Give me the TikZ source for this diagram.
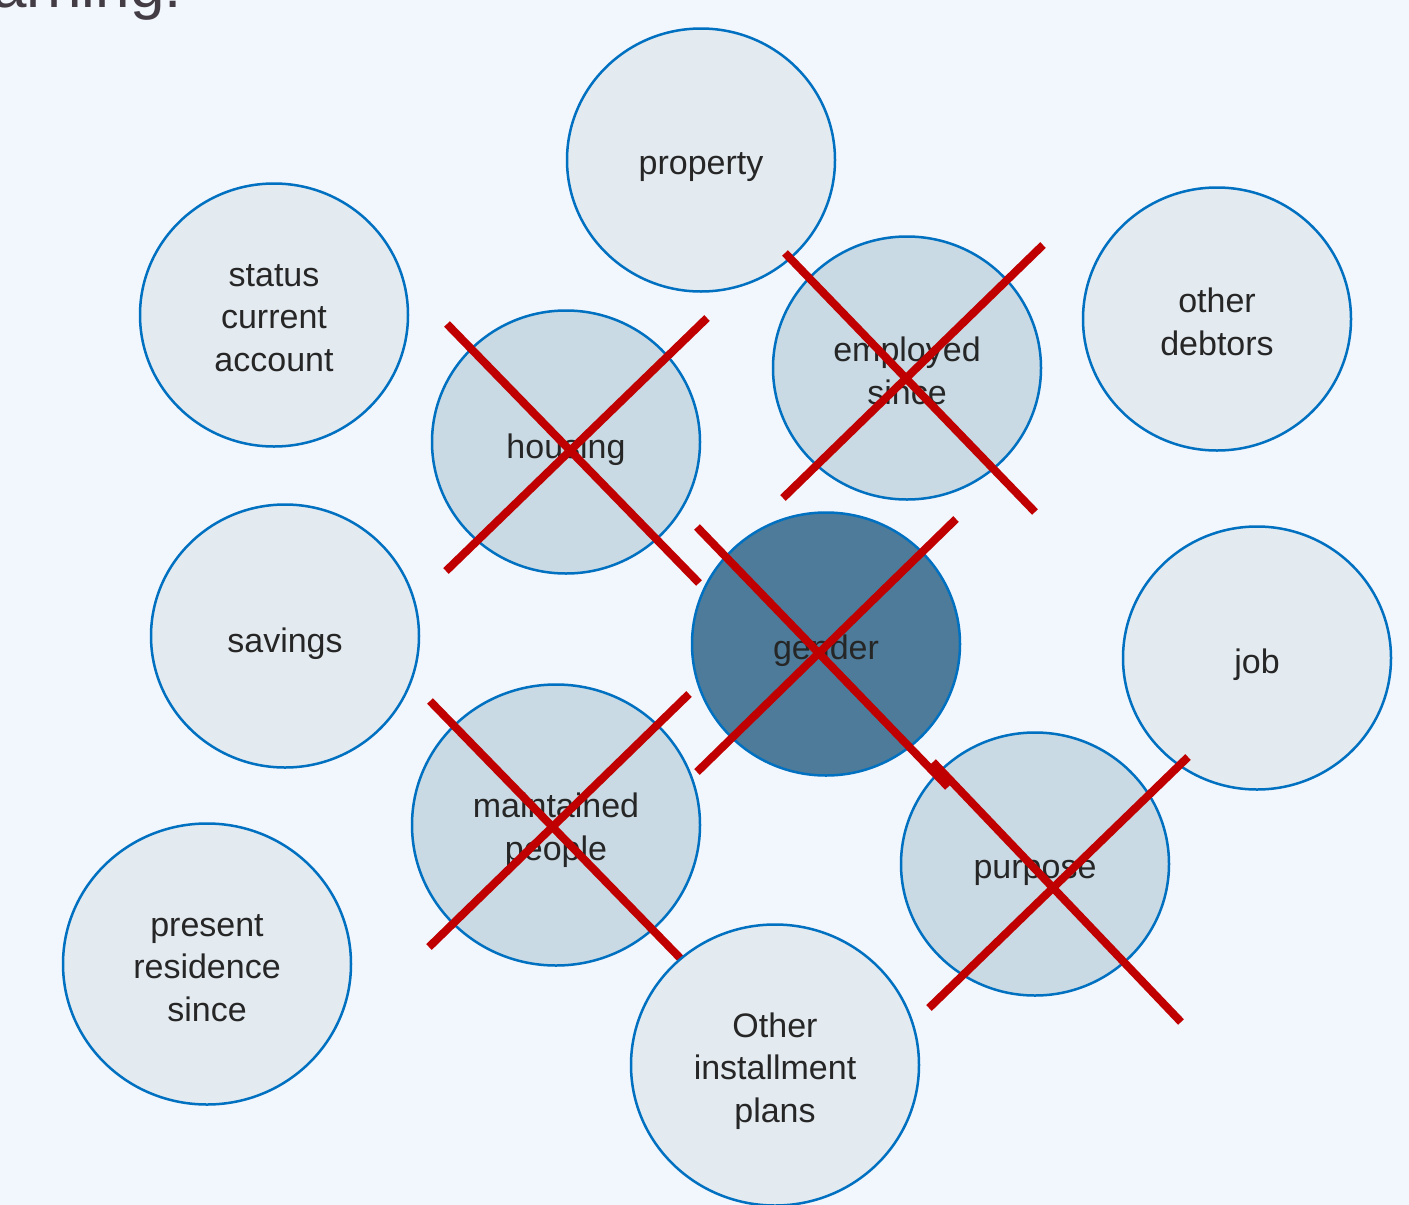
\documentclass[tikz,border=0pt]{standalone}
\usepackage{fontspec}
\setmainfont{Liberation Sans}
\usetikzlibrary{shapes.geometric}
\definecolor{bgc}{HTML}{F2F6FD}
\definecolor{lightc}{HTML}{E3EAF0}
\definecolor{crossc}{HTML}{C9DAE4}
\definecolor{darkc}{HTML}{4D7B99}
\definecolor{edgec}{HTML}{0070C0}
\definecolor{redc}{HTML}{C00000}
\definecolor{txtc}{HTML}{262626}
\definecolor{titlec}{HTML}{433C45}
\tikzset{
  bubble/.style={ellipse, draw=edgec, line width=2.5pt, fill=lightc, inner sep=0pt,
    minimum width=268pt, minimum height=263pt},
  bigbubble/.style={bubble, minimum width=288pt, minimum height=281pt},
  bt/.style={align=center, text=txtc, inner sep=0pt,
    font=\fontsize{34}{42.5}\selectfont},
  crossed/.style={fill=crossc},
  darkbubble/.style={fill=darkc},
  redx/.style={draw=redc, line width=8pt}
}
\begin{document}
\begin{tikzpicture}[x=1pt,y=-1pt]
\useasboundingbox (0,0) rectangle (1409,1205);
\fill[bgc] (0,0) rectangle (1409,1205);
\node[anchor=base east, text=titlec, font=\fontsize{62}{70}\selectfont, inner sep=0pt] (title) at (182,7) {arning:};

\node[bubble, label={[bt,yshift=-7pt]center:property}] (property) at (701,160) {};
\node[bubble, label={[bt,yshift=-3pt]center:status\\current\\account}] (status) at (274,315) {};
\node[bubble, crossed, label={[bt,yshift=-8pt]center:housing}] (housing) at (566,442) {};
\node[bubble, crossed, label={[bt,yshift=-3pt]center:employed\\since}] (employed) at (907,368) {};
\node[bubble, label={[bt,yshift=-3pt]center:other\\debtors}] (debtors) at (1217,319) {};
\node[bubble, label={[bt,yshift=-8pt]center:savings}] (savings) at (285,636) {};
\node[bubble, darkbubble, label={[bt,yshift=-7pt]center:gender}] (gender) at (826,644) {};
\node[bubble, label={[bt,yshift=-7pt]center:job}] (job) at (1257,658) {};
\node[bigbubble, crossed, label={[bt,yshift=-5pt]center:maintained\\people}] (maintained) at (556,825) {};
\node[bubble, crossed, label={[bt,yshift=-9pt]center:purpose}] (purpose) at (1035,864) {};
\node[bigbubble, label={[bt,yshift=-4pt]center:present\\residence\\since}] (residence) at (207,964) {};

% red crosses
\draw[redx] (447,324) -- (699,583);
\draw[redx] (446,571) -- (707,318);
\draw[redx] (785,253) -- (1035,512);
\draw[redx] (783,498) -- (1043,245);
\draw[redx] (697,527) -- (948,787);
\draw[redx] (697,772) -- (956,519);
\draw[redx] (430,701) -- (682,960);
\draw[redx] (429,947) -- (689,694);
\draw[redx] (933,762) -- (1181,1022);
\draw[redx] (929,1008) -- (1188,757);

\node[bigbubble, label={[bt,yshift=-6pt]center:Other\\installment\\plans}] (installment) at (775,1065) {};
\end{tikzpicture}
\end{document}
